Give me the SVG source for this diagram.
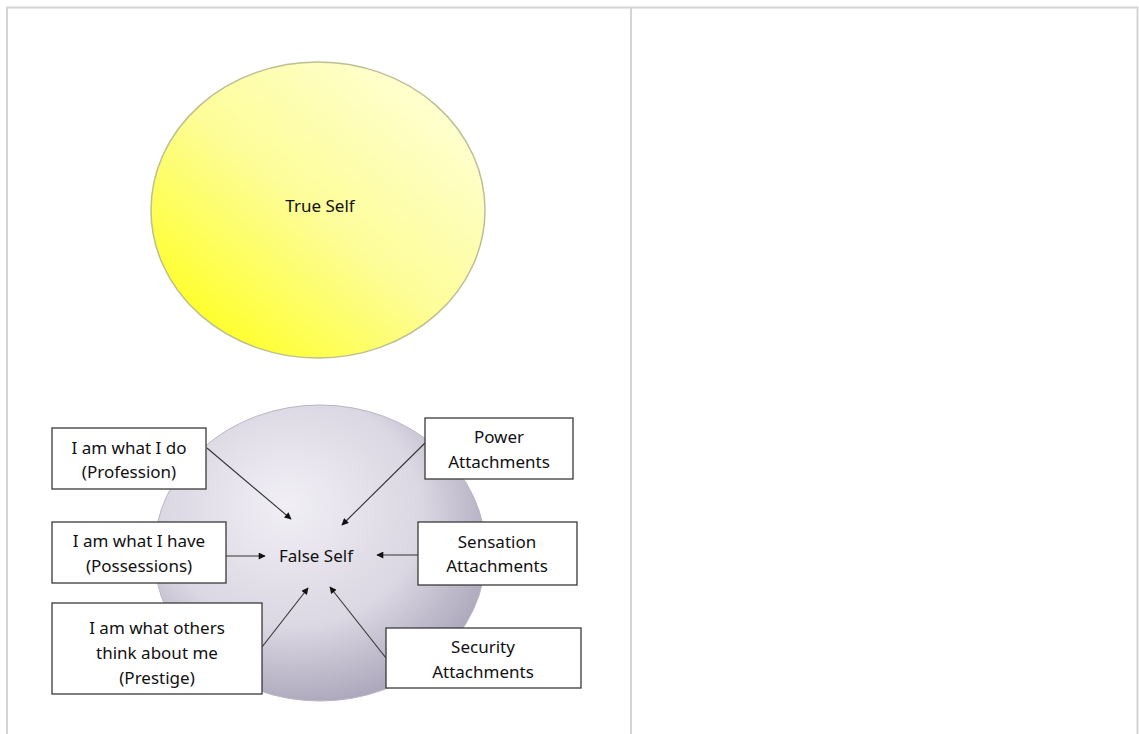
<svg xmlns="http://www.w3.org/2000/svg" width="1139" height="734" viewBox="0 0 1139 734">
<defs>
<linearGradient id="yellowGrad" x1="0.1" y1="0.9" x2="0.85" y2="0.1">
<stop offset="0" stop-color="#ffff22"/>
<stop offset="0.5" stop-color="#fdfd98"/>
<stop offset="1" stop-color="#ffffd2"/>
</linearGradient>
<radialGradient id="grayGrad" cx="0.42" cy="0.38" r="0.65" fx="0.4" fy="0.33">
<stop offset="0" stop-color="#f1eff5"/>
<stop offset="0.6" stop-color="#dbd7e3"/>
<stop offset="1" stop-color="#aaa5b9"/>
</radialGradient>
<marker id="arrow" viewBox="0 0 10 10" refX="9" refY="5" markerWidth="9" markerHeight="7" markerUnits="userSpaceOnUse" orient="auto">
<path d="M0,0 L10,5 L0,10 z" fill="#111"/>
</marker>
<style>
.frame{stroke:#d4d4d4;stroke-width:2;fill:none}
.box{fill:#ffffff;stroke:#3a3a3a;stroke-width:1.3}
.lbl{font-family:"Comic Sans MS","Noto Sans",sans-serif;font-size:17px;fill:#111;text-anchor:middle}
.conn{stroke:#333;stroke-width:1.1;fill:none;marker-end:url(#arrow)}
</style>
</defs>
<rect width="1139" height="734" fill="#ffffff"/>
<g id="table">
<path class="frame" d="M7,734 V7.5 H1137.5 V734"/>
<line class="frame" x1="631" y1="7.5" x2="631" y2="734"/>
</g>
<g id="true-self">
<ellipse cx="318" cy="210" rx="167" ry="148" fill="url(#yellowGrad)" stroke="#bcbf90" stroke-width="1.5"/>
<text class="lbl" x="320" y="212">True Self</text>
</g>
<g id="false-self">
<ellipse cx="320" cy="553" rx="166" ry="148" fill="url(#grayGrad)" stroke="#b8b4c4" stroke-width="1"/>
<text class="lbl" x="316" y="562">False Self</text>
</g>
<g id="connectors">
<line class="conn" x1="207" y1="448" x2="291" y2="519"/>
<line class="conn" x1="226" y1="556" x2="265" y2="556"/>
<line class="conn" x1="262" y1="647" x2="308" y2="588"/>
<line class="conn" x1="425" y1="443" x2="342" y2="525"/>
<line class="conn" x1="418" y1="555" x2="377" y2="555"/>
<line class="conn" x1="386" y1="658" x2="330" y2="587"/>
</g>
<g id="profession">
<rect class="box" x="52" y="428" width="154" height="61"/>
<text class="lbl" x="129" y="454">I am what I do</text>
<text class="lbl" x="129" y="478">(Profession)</text>
</g>
<g id="possessions">
<rect class="box" x="52" y="522" width="174" height="61"/>
<text class="lbl" x="139" y="547">I am what I have</text>
<text class="lbl" x="139" y="572">(Possessions)</text>
</g>
<g id="prestige">
<rect class="box" x="52" y="603" width="210" height="91"/>
<text class="lbl" x="157" y="634">I am what others</text>
<text class="lbl" x="157" y="659">think about me</text>
<text class="lbl" x="157" y="684">(Prestige)</text>
</g>
<g id="power">
<rect class="box" x="425" y="418" width="148" height="61"/>
<text class="lbl" x="499" y="443">Power</text>
<text class="lbl" x="499" y="468">Attachments</text>
</g>
<g id="sensation">
<rect class="box" x="418" y="522" width="159" height="63"/>
<text class="lbl" x="497" y="548">Sensation</text>
<text class="lbl" x="497" y="572">Attachments</text>
</g>
<g id="security">
<rect class="box" x="386" y="628" width="195" height="60"/>
<text class="lbl" x="483" y="653">Security</text>
<text class="lbl" x="483" y="678">Attachments</text>
</g>
</svg>
